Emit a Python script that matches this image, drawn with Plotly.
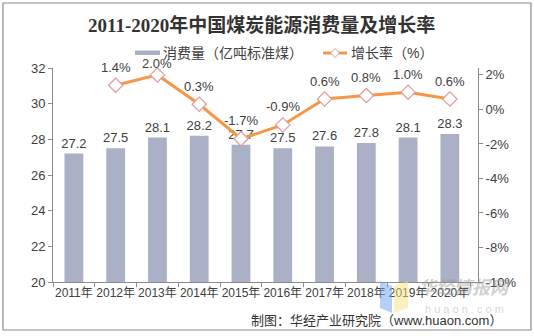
import plotly.graph_objects as go

# Coal consumption in China, 2011-2020
years = ["2011年", "2012年", "2013年", "2014年", "2015年",
         "2016年", "2017年", "2018年", "2019年", "2020年"]
consumption = [27.2, 27.5, 28.1, 28.2, 27.7, 27.5, 27.6, 27.8, 28.1, 28.3]
growth_years = years[1:]
growth = [1.4, 2.0, 0.3, -1.7, -0.9, 0.6, 0.8, 1.0, 0.6]

W, H = 534, 336
L, R, T, B = 53, 56, 68, 54
FONT = "Liberation Sans, Arial, Noto Sans CJK SC, sans-serif"
TXT = "#404040"
BAR_COLOR = "#AAB0C6"
LINE_COLOR = "#F79646"
MARK_EDGE = "#E09A98"

fig = go.Figure()

fig.add_trace(go.Bar(
    x=years, y=consumption, name="消费量（亿吨标准煤）",
    marker=dict(color=BAR_COLOR, line=dict(width=0)),
    text=[f"{v:.1f}" for v in consumption], textposition="outside",
    constraintext="none",
    textfont=dict(size=13, color=TXT, family=FONT),
    cliponaxis=False, yaxis="y", showlegend=False,
))

fig.add_trace(go.Scatter(
    x=growth_years, y=growth, name="增长率（%）", yaxis="y2",
    mode="lines+markers",
    line=dict(color=LINE_COLOR, width=3),
    marker=dict(symbol="diamond", size=11, color="white",
                line=dict(color=MARK_EDGE, width=1.2)),
    cliponaxis=False, showlegend=False,
))

pw = W - L - R
ph = H - T - B


def px_x(x):
    return (x - L) / pw


def px_y(y):
    return (H - B - y) / ph


annotations = []

# growth-rate labels above the markers (the 2013 label sits lower, under the legend)
for yr, v in zip(growth_years, growth):
    annotations.append(dict(
        x=yr, y=v, xref="x", yref="y2", text=f"{v:.1f}%", showarrow=False,
        yanchor="middle", yshift=11 if yr == "2013年" else 18,
        font=dict(size=13, color=TXT, family=FONT)))

shapes = [
    # outer frame
    dict(type="rect", xref="paper", yref="paper",
         x0=px_x(3), x1=px_x(531), y0=px_y(330), y1=px_y(3),
         line=dict(color="#8C8C8C", width=1.2), fillcolor="rgba(0,0,0,0)",
         layer="below"),
    # legend: bar swatch
    dict(type="rect", xref="paper", yref="paper",
         x0=px_x(135), x1=px_x(160), y0=px_y(55), y1=px_y(50.5),
         line=dict(width=0), fillcolor=BAR_COLOR),
    # legend: line swatch
    dict(type="line", xref="paper", yref="paper",
         x0=px_x(323), x1=px_x(347), y0=px_y(53), y1=px_y(53),
         line=dict(color=LINE_COLOR, width=3)),
]

# legend: diamond marker
cx, cy, r = 335, 53, 4.5
diamond = (f"M {px_x(cx - r)} {px_y(cy)} L {px_x(cx)} {px_y(cy - r)} "
           f"L {px_x(cx + r)} {px_y(cy)} L {px_x(cx)} {px_y(cy + r)} Z")
shapes.append(dict(type="path", xref="paper", yref="paper", path=diamond,
                   fillcolor="white", line=dict(color=MARK_EDGE, width=1)))

# watermark logo
blue = (f"M {px_x(380)} {px_y(281)} L {px_x(392)} {px_y(286)} "
        f"L {px_x(392)} {px_y(313)} L {px_x(380)} {px_y(308)} Z")
yellow = (f"M {px_x(394)} {px_y(286)} L {px_x(408)} {px_y(281)} "
          f"L {px_x(408)} {px_y(308)} L {px_x(394)} {px_y(313)} Z")
shapes.append(dict(type="path", xref="paper", yref="paper", path=blue,
                   fillcolor="rgba(110,160,240,0.5)", line=dict(width=0)))
shapes.append(dict(type="path", xref="paper", yref="paper", path=yellow,
                   fillcolor="rgba(250,225,130,0.5)", line=dict(width=0)))


def label(text, x, y, size, color=TXT, xanchor="center", family=FONT):
    return dict(text=text, xref="paper", yref="paper", x=px_x(x), y=px_y(y),
                xanchor=xanchor, yanchor="middle", showarrow=False,
                font=dict(size=size, color=color, family=family))


annotations += [
    label("<b>2011-2020年中国煤炭能源消费量及增长率</b>", 261, 25, 19, "#333333",
          family="Liberation Serif, DejaVu Serif, Noto Sans CJK SC, serif"),
    label("消费量（亿吨标准煤）", 161, 53, 14, xanchor="left"),
    label("增长率（%）", 349, 53, 14, xanchor="left"),
    label("制图：华经产业研究院（www.huaon.com）", 504, 320, 13, "#333333",
          xanchor="right"),
    # watermark text
    label("<b><i>华经情报网</i></b>", 464, 288, 18, "rgba(150,150,150,0.45)"),
    label("h u a o n . c o m", 464, 309, 11, "rgba(150,150,150,0.4)"),
]

fig.update_layout(
    width=W, height=H,
    margin=dict(l=L, r=R, t=T, b=B),
    paper_bgcolor="white", plot_bgcolor="white",
    font=dict(family=FONT, color=TXT, size=12),
    bargap=0.55,
    showlegend=False,
    xaxis=dict(type="category", showline=True, linecolor="#8C8C8C",
               ticks="outside", tickson="boundaries", ticklen=4,
               tickcolor="#8C8C8C", showgrid=False, tickangle=0,
               tickfont=dict(size=12, color=TXT, family=FONT)),
    yaxis=dict(range=[20, 32], dtick=2, showline=True, linecolor="#8C8C8C",
               ticks="outside", ticklen=4, tickcolor="#8C8C8C",
               showgrid=False, zeroline=False,
               tickfont=dict(size=13, color=TXT, family=FONT)),
    yaxis2=dict(range=[-10, 2.4], tickvals=[-10, -8, -6, -4, -2, 0, 2],
                ticktext=["-10%", "-8%", "-6%", "-4%", "-2%", "0%", "2%"],
                overlaying="y", side="right", showline=True,
                linecolor="#8C8C8C", ticks="outside", ticklen=4,
                tickcolor="#8C8C8C", showgrid=False, zeroline=False,
                tickfont=dict(size=13, color=TXT, family=FONT)),
    shapes=shapes,
    annotations=annotations,
)

fig.write_html("out.html")
